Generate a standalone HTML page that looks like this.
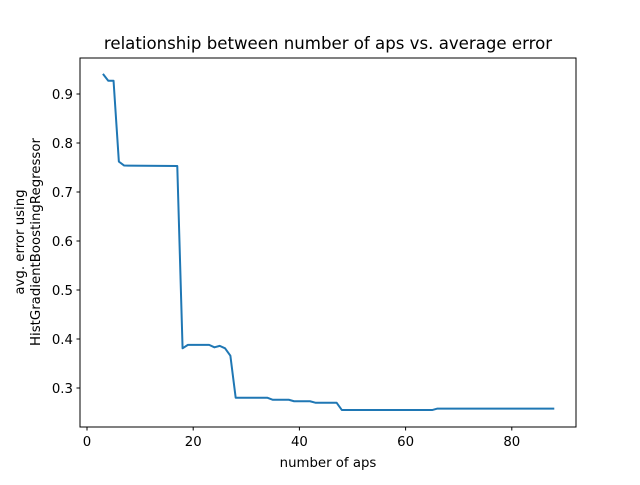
<!DOCTYPE html>
<html><head><meta charset="utf-8"><style>
body{margin:0;background:#fff}
svg{font-family:"DejaVu Sans","Liberation Sans",sans-serif}
</style></head><body>
<svg id="chart" width="640" height="480">
<rect width="640" height="480" fill="#fff"/>
<text x="328" y="49" text-anchor="middle" font-size="16.6">relationship between number of aps vs. average error</text>
<g id="plot"></g>
<rect x="80" y="58" width="496" height="369" fill="none" stroke="#000" stroke-width="1"/>
<text x="328" y="467" text-anchor="middle" font-size="13.3">number of aps</text>
<text transform="translate(24,242) rotate(-90)" text-anchor="middle" font-size="13.3">avg. error using</text>
<text transform="translate(40,242) rotate(-90)" text-anchor="middle" font-size="13.3">HistGradientBoostingRegressor</text>
</svg>
<script>
const xs=[3,4,5,6,7,17,18,19,23,24,25,26,27,28,34,35,38,39,42,43,47,48,65,66,88];
const ys=[0.941,0.927,0.927,0.762,0.754,0.753,0.381,0.388,0.388,0.383,0.386,0.381,0.366,0.280,0.280,0.276,0.276,0.273,0.273,0.270,0.270,0.255,0.255,0.258,0.258];
const xTicks=[0,20,40,60,80];
const yTicks=[0.3,0.4,0.5,0.6,0.7,0.8,0.9];
const X=v=>87+v*5.31, Y=v=>94+(0.9-v)*490;
const g=document.getElementById('plot'), NS='http://www.w3.org/2000/svg';
function mk(t,a){const e=document.createElementNS(NS,t);for(const k in a)e.setAttribute(k,a[k]);g.appendChild(e);return e;}
xTicks.forEach(t=>{
 const l=mk('line',{x1:X(t),x2:X(t),y1:427,y2:430.5,stroke:'#000'});
 
 
 const s=mk('text',{x:X(t),y:446,'text-anchor':'middle','font-size':'13.3'});s.textContent=t;
 
 
});
yTicks.forEach(t=>{
 const l=mk('line',{x1:76.5,x2:80,y1:Y(t),y2:Y(t),stroke:'#000'});
 
 
 const s=mk('text',{x:73,y:Y(t)+5,'text-anchor':'end','font-size':'13.3'});s.textContent=t.toFixed(1);
 
 
});
const p=mk('polyline',{points:xs.map((x,i)=>X(x)+','+Y(ys[i])).join(' '),fill:'none',stroke:'#1f77b4','stroke-width':'2','stroke-linejoin':'round'});


</script>
</body></html>
